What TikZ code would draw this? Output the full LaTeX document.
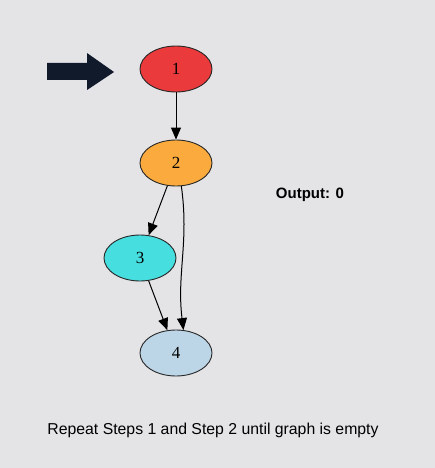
\documentclass[tikz,border=0pt]{standalone}
\usepackage{fontspec}
\setmainfont{Liberation Serif}
\setsansfont{Liberation Sans}
\usetikzlibrary{shapes.geometric,arrows.meta}
\definecolor{bg}{HTML}{E4E4E7}
\definecolor{cred}{HTML}{EA3A3C}
\definecolor{corange}{HTML}{FBAB3D}
\definecolor{ccyan}{HTML}{46DEDF}
\definecolor{cblue}{HTML}{BCD6E8}
\definecolor{navy}{HTML}{111A2B}
\tikzset{
  vtx/.style={ellipse,draw=black!85,line width=0.9pt,minimum width=72pt,minimum height=46pt,inner sep=0pt,font=\fontsize{17}{19}\selectfont},
  edge/.style={draw=black,line width=1pt,-{Triangle[length=12pt,width=10pt]}},
}
\begin{document}
\begin{tikzpicture}[x=1pt,y=-1pt]
\fill[bg] (0,0) rectangle (435,468);
\useasboundingbox (0,0) rectangle (435,468);
\node[vtx,fill=cred] (n1) at (176,69) {1};
\node[vtx,fill=corange] (n2) at (176,163) {2};
\node[vtx,fill=ccyan] (n3) at (140,258) {3};
\node[vtx,fill=cblue] (n4) at (176,353) {4};
\draw[edge] (n1) -- (n2);
\draw[edge] (n2) -- (n3);
\draw[edge] (n3) -- (n4);
\draw[edge] (n2.-77) to[out=-82,in=97] (n4.72);
\fill[navy] (47,63) -- (87,63) -- (87,53) -- (114,72) -- (87,90) -- (87,80) -- (47,80) -- cycle;
\node[font=\sffamily\bfseries\fontsize{15}{17}\selectfont] (out) at (310,195) {Output: 0};
\node[font=\sffamily\fontsize{15.8}{18}\selectfont] (cap) at (213,430) {Repeat Steps 1 and Step 2 until graph is empty};
\end{tikzpicture}
\end{document}
